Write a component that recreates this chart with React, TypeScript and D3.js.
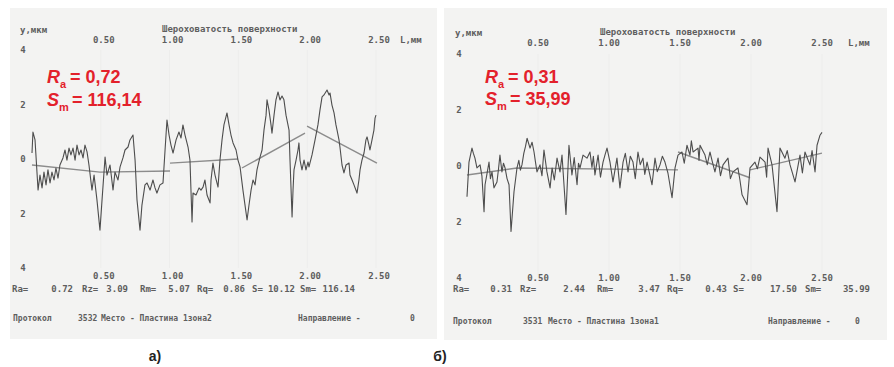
import React from "react";
import * as d3 from "d3";

// axis ticks of the printouts
const xTicks = [0.5, 1.0, 1.5, 2.0, 2.5];
const yTicks = [4, 2, 0, -2, -4];

// roughness parameters
const statNames = ["Ra=", "Rz=", "Rm=", "Rq=", "S=", "Sm="];
const statsA = ["0.72", "3.09", "5.07", "0.86", "10.12", "116.14"];
const statsB = ["0.31", "2.44", "3.47", "0.43", "17.50", "35.99"];

// profile а): [L, mm ; y, мкм]
const profileA: [number, number][] = [
  [0.000,0.22],[0.007,0.99],[0.022,0.70],[0.044,-1.14],[0.058,-0.59],[0.073,-1.06],[0.087,-0.48],[0.102,-0.95],
  [0.116,-0.40],[0.131,-0.88],[0.145,-0.48],[0.160,-0.77],[0.174,-0.33],[0.189,-0.70],[0.203,-0.22],[0.225,0.04],
  [0.240,0.33],[0.254,-0.04],[0.269,0.40],[0.283,0.15],[0.298,0.40],[0.313,-0.04],[0.327,0.51],[0.342,0.15],
  [0.356,0.33],[0.371,0.04],[0.385,0.51],[0.400,0.26],[0.414,-0.22],[0.436,-1.14],[0.451,-0.59],[0.472,-1.50],
  [0.494,-2.61],[0.509,-1.50],[0.531,0.07],[0.545,-0.59],[0.567,-0.22],[0.589,-1.14],[0.603,-0.48],[0.625,-0.77],
  [0.640,-0.29],[0.661,0.04],[0.676,0.33],[0.698,0.44],[0.712,0.70],[0.734,0.88],[0.749,-0.04],[0.763,-1.50],
  [0.785,-2.61],[0.799,-1.69],[0.821,-0.95],[0.836,-0.88],[0.858,-1.14],[0.879,-0.77],[0.894,-1.06],[0.908,-1.25],
  [0.930,-0.95],[0.952,-0.88],[0.967,0.33],[0.981,1.43],[0.996,0.88],[1.010,0.51],[1.025,0.22],[1.047,0.70],
  [1.068,0.99],[1.083,0.77],[1.097,1.25],[1.112,0.88],[1.134,0.44],[1.148,-0.04],[1.163,-2.31],[1.170,-1.25],
  [1.192,-1.32],[1.214,-1.06],[1.228,-1.14],[1.243,-1.03],[1.257,-0.77],[1.272,-1.32],[1.294,-1.61],[1.301,-0.77],
  [1.315,-0.15],[1.330,-0.59],[1.352,-1.03],[1.366,-0.04],[1.381,0.70],[1.395,1.25],[1.417,1.69],[1.432,1.25],
  [1.446,0.88],[1.461,0.59],[1.483,0.33],[1.497,-0.04],[1.512,-0.29],[1.533,-1.14],[1.548,-1.69],[1.563,-2.24],
  [1.577,-1.69],[1.592,-1.14],[1.606,-0.77],[1.621,-0.95],[1.635,-0.40],[1.657,0.07],[1.672,0.33],[1.686,1.06],
  [1.701,1.61],[1.708,2.17],[1.722,1.80],[1.737,1.25],[1.744,0.95],[1.759,1.61],[1.773,2.17],[1.788,2.46],
  [1.802,2.17],[1.817,2.31],[1.831,2.17],[1.846,1.61],[1.868,1.06],[1.875,-0.04],[1.890,-2.13],[1.897,-1.14],
  [1.904,-0.40],[1.919,-0.04],[1.933,0.33],[1.940,0.59],[1.948,-0.04],[1.962,-0.40],[1.977,-0.04],[1.991,-0.40],
  [2.006,-0.11],[2.013,-0.29],[2.035,0.15],[2.057,0.70],[2.078,1.25],[2.093,1.80],[2.108,2.28],[2.122,2.35],
  [2.144,2.53],[2.159,2.35],[2.166,2.42],[2.180,1.98],[2.195,1.69],[2.209,1.25],[2.217,1.06],[2.231,0.70],
  [2.238,0.44],[2.253,-0.22],[2.267,-0.51],[2.282,-0.22],[2.304,-0.15],[2.311,-0.59],[2.326,-0.77],[2.340,-0.95],
  [2.362,-1.25],[2.376,-0.77],[2.384,-0.40],[2.398,-0.04],[2.413,0.22],[2.427,0.70],[2.435,0.81],[2.449,0.51],
  [2.456,0.33],[2.471,0.70],[2.485,1.06],[2.493,1.50],[2.500,1.61],
];

// profile б)
const profileB: [number, number][] = [
  [0.000,-1.10],[0.014,0.14],[0.035,0.64],[0.045,0.45],[0.056,0.28],[0.070,-0.07],[0.092,0.04],[0.105,-0.35],
  [0.120,-1.63],[0.127,-0.67],[0.140,-0.30],[0.155,0.14],[0.165,-0.45],[0.176,-0.21],[0.190,-0.78],[0.211,-0.57],
  [0.222,-0.10],[0.232,0.39],[0.246,-0.21],[0.257,0.10],[0.268,-0.07],[0.282,-0.45],[0.296,-0.67],[0.310,-2.34],
  [0.331,-0.92],[0.352,-0.07],[0.365,0.20],[0.376,-0.15],[0.387,0.04],[0.400,0.45],[0.412,0.70],[0.423,0.99],
  [0.444,0.64],[0.458,0.85],[0.472,0.50],[0.482,0.15],[0.493,-0.21],[0.514,0.04],[0.528,-0.35],[0.542,0.57],
  [0.563,-0.21],[0.585,-0.78],[0.599,-0.07],[0.615,-0.50],[0.634,0.28],[0.655,-0.21],[0.669,0.39],[0.697,-1.73],
  [0.718,0.74],[0.739,-0.32],[0.755,0.30],[0.775,-0.67],[0.785,0.10],[0.796,-0.07],[0.817,0.39],[0.845,0.28],
  [0.866,0.50],[0.880,-0.05],[0.890,0.35],[0.901,-0.32],[0.923,0.39],[0.940,-0.40],[0.958,0.14],[0.972,0.40],
  [0.986,0.64],[1.007,0.14],[1.028,-0.57],[1.056,0.28],[1.077,-0.78],[1.099,0.14],[1.115,0.45],[1.134,-0.21],
  [1.150,0.35],[1.169,0.14],[1.185,-0.45],[1.204,0.50],[1.220,0.05],[1.239,0.28],[1.252,-0.30],[1.268,0.14],
  [1.303,-0.67],[1.324,0.28],[1.340,-0.20],[1.359,0.04],[1.376,0.35],[1.394,0.14],[1.415,-0.25],[1.444,-1.13],
  [1.465,-0.07],[1.486,0.39],[1.514,0.50],[1.530,0.10],[1.549,0.74],[1.570,0.39],[1.580,0.90],[1.592,0.50],
  [1.627,0.64],[1.634,0.20],[1.641,0.74],[1.676,0.39],[1.692,0.05],[1.711,0.50],[1.728,0.15],[1.746,-0.21],
  [1.768,0.28],[1.785,-0.35],[1.803,0.04],[1.838,0.28],[1.855,-0.45],[1.873,-0.21],[1.908,-0.07],[1.922,-0.50],
  [1.937,-1.03],[1.972,-1.38],[1.993,-0.07],[2.028,0.14],[2.045,-0.10],[2.063,0.32],[2.099,0.14],[2.110,-0.40],
  [2.120,0.64],[2.148,0.04],[2.183,-1.63],[2.204,0.64],[2.239,0.28],[2.255,0.55],[2.275,0.04],[2.310,-0.57],
  [2.345,0.39],[2.362,-0.25],[2.380,0.50],[2.415,0.04],[2.430,0.55],[2.451,-0.21],[2.465,0.74],[2.486,1.10],
  [2.500,1.20],
];

// mean lines per sampling length
const meanA: [number, number][][] = [
  [[0.0, -0.22], [0.494, -0.48], [1.003, -0.44]],
  [[1.003, -0.15], [1.497, 0.0]],
  [[1.526, -0.33], [1.984, 0.95]],
  [[1.999, 1.21], [2.507, -0.15]],
];
const meanB: [number, number][][] = [
  [[0.0, -0.32], [0.352, -0.07], [1.486, -0.14]],
  [[1.486, 0.5], [1.993, -0.42]],
  [[1.993, -0.14], [2.5, 0.46]],
];

const layoutA = {
  bg: [10, 8, 427, 331], x: [32, 376], y: [268, 50], tickDx: 3, yLabelX: 23,
  yUnit: [20, 33], title: [162, 32], topTick: 43, lUnit: 400, botTick: 279,
  statY: 292, statX: [12, 82, 140, 197, 252, 300], statEnd: [73, 128, 190, 245, 295, 355],
  protoY: 321, protoX: [13, 78, 101, 298, 410],
  red: [47, 83, 106], redEq: 70, tag: [155, 361],
};
const layoutB = {
  bg: [444, 8, 443, 332], x: [467, 822], y: [278, 54], tickDx: 0, yLabelX: 459,
  yUnit: [455, 36], title: [600, 35], topTick: 46, lUnit: 848, botTick: 281,
  statY: 292, statX: [453, 520, 597, 667, 733, 805], statEnd: [512, 585, 660, 727, 797, 870],
  protoY: 324, protoX: [453, 523, 548, 768, 855],
  red: [485, 83, 105], redEq: 508, tag: [440, 361],
};

const mono = "'DejaVu Sans Mono', monospace";
const ink = "#5e5e5e";
const red = "#e3212b";

type PanelProps = {
  profile: [number, number][];
  mean: [number, number][][];
  stats: string[];
  proto: string;
  place: string;
  ra: string;
  sm: string;
  tag: string;
  L: typeof layoutA;
};

function Panel({ profile, mean, stats, proto, place, ra, sm, tag, L }: PanelProps) {
  const x = d3.scaleLinear().domain([0, 2.5]).range(L.x);
  const y = d3.scaleLinear().domain([-4, 4]).range(L.y);
  const line = d3.line<[number, number]>().x((d) => x(d[0])).y((d) => y(d[1]));
  const fmt = d3.format(".2f");
  const [bx, by, bw, bh] = L.bg;

  return (
    <g>
      <rect x={bx} y={by} width={bw} height={bh} fill="#f3f3f2" />
      {xTicks.map((t) => (
        <line key={t} x1={x(t)} x2={x(t)} y1={y(4)} y2={y(-4)} stroke="#ededec" strokeWidth={1} />
      ))}

      <g fontFamily={mono} fontSize={9} fontWeight="bold" fill={ink}>
        <text x={L.yUnit[0]} y={L.yUnit[1]}>y,мкм</text>
        <text x={L.title[0]} y={L.title[1]}>Шероховатость поверхности</text>
        <text x={L.lUnit} y={L.topTick}>L,мм</text>
        {xTicks.map((t) => (
          <text key={"t" + t} x={x(t) + L.tickDx} y={L.topTick} textAnchor="middle">{fmt(t)}</text>
        ))}
        {xTicks.map((t) => (
          <text key={"b" + t} x={x(t) + L.tickDx} y={L.botTick} textAnchor="middle">{fmt(t)}</text>
        ))}
        {yTicks.map((t) => (
          <text key={"y" + t} x={L.yLabelX} y={y(t) + 3} textAnchor="middle">{Math.abs(t)}</text>
        ))}
        {statNames.map((n, i) => (
          <g key={n}>
            <text x={L.statX[i]} y={L.statY}>{n}</text>
            <text x={L.statEnd[i]} y={L.statY} textAnchor="end">{stats[i]}</text>
          </g>
        ))}
        <g fontSize={8}>
          <text x={L.protoX[0]} y={L.protoY}>Протокол</text>
          <text x={L.protoX[1]} y={L.protoY}>{proto}</text>
          <text x={L.protoX[2]} y={L.protoY}>{"Место - " + place}</text>
          <text x={L.protoX[3]} y={L.protoY}>Направление -</text>
          <text x={L.protoX[4]} y={L.protoY}>0</text>
        </g>
      </g>

      {mean.map((seg, i) => (
        <path key={i} d={line(seg) || ""} fill="none" stroke="#8c8c8c" strokeWidth={1.4} />
      ))}
      <path d={line(profile) || ""} fill="none" stroke="#4d4d4d" strokeWidth={1.1} strokeLinejoin="round" />

      <g fontFamily="'Liberation Sans', Arial, sans-serif" fontWeight="bold" fill={red} fontSize={18}>
        <text x={L.red[0]} y={L.red[1]}>
          <tspan fontStyle="italic">R</tspan>
          <tspan fontSize={11} dy={5}>a</tspan>
          <tspan x={L.redEq} dy={-5}>{"= " + ra}</tspan>
        </text>
        <text x={L.red[0]} y={L.red[2]}>
          <tspan fontStyle="italic">S</tspan>
          <tspan fontSize={11} dy={5}>m</tspan>
          <tspan x={L.redEq + 2} dy={-5}>{"= " + sm}</tspan>
        </text>
      </g>

      <text x={L.tag[0]} y={L.tag[1]} textAnchor="middle" fontFamily="'Liberation Sans', Arial, sans-serif"
        fontWeight="bold" fontSize={14} fill="#222">{tag}</text>
    </g>
  );
}

export default function App() {
  return (
    <svg width={894} height={367} style={{ position: "absolute", left: 0, top: 0, background: "#fff" }}>
      <Panel profile={profileA} mean={meanA} stats={statsA} proto="3532" place="Пластина 1зона2"
        ra="0,72" sm="116,14" tag="а)" L={layoutA} />
      <Panel profile={profileB} mean={meanB} stats={statsB} proto="3531" place="Пластина 1зона1"
        ra="0,31" sm="35,99" tag="б)" L={layoutB} />
    </svg>
  );
}
